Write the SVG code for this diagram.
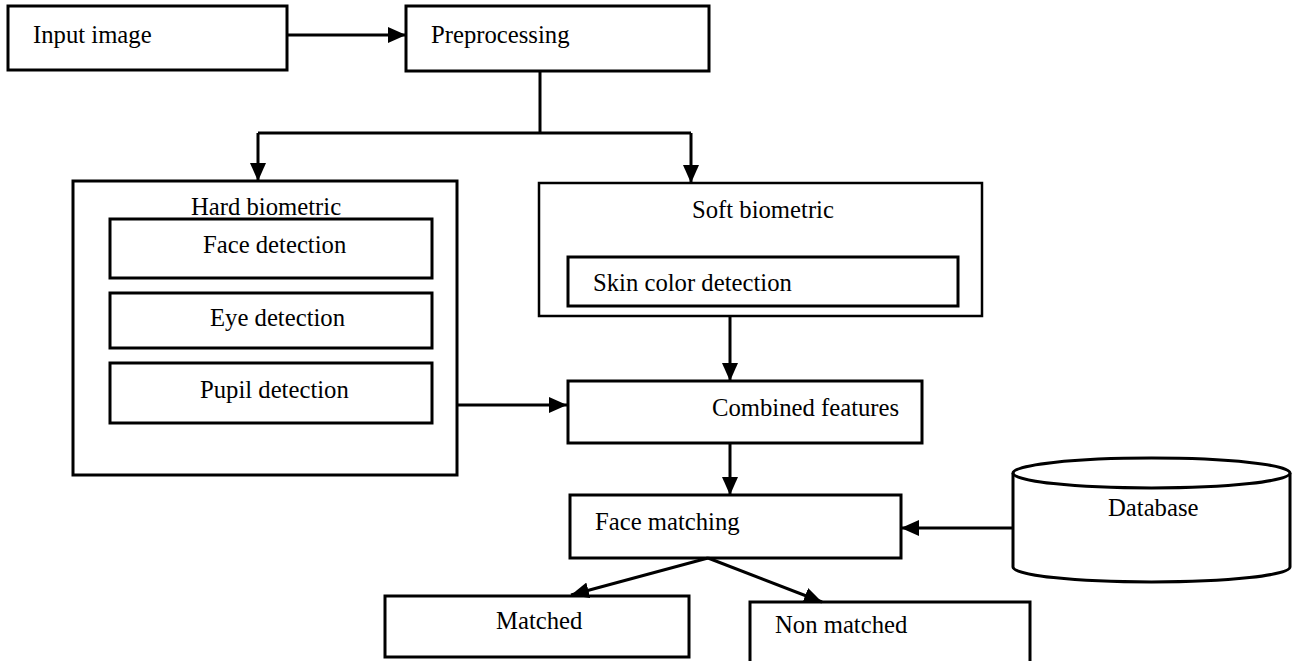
<svg xmlns="http://www.w3.org/2000/svg" width="1296" height="661" viewBox="0 0 1296 661">
<style>
.box{fill:#fff;stroke:#000;stroke-width:3}
.thin{fill:#fff;stroke:#000;stroke-width:2.5}
.t{font-family:"Liberation Serif","Times New Roman",serif;font-size:24.7px;fill:#000}
.c{fill:none;stroke:#000;stroke-width:3}
</style>
<defs>
<marker id="ah" markerUnits="userSpaceOnUse" markerWidth="18" markerHeight="16" refX="18" refY="8" orient="auto" viewBox="0 0 18 16">
<path d="M0,0 L18,8 L0,16 z" fill="#000"/>
</marker>
</defs>
<rect width="1296" height="661" fill="#fff"/>
<g id="input"><rect class="box" x="8" y="6" width="279" height="64"/><text class="t" x="33" y="43">Input image</text></g>
<g id="preprocessing"><rect class="box" x="406" y="6" width="303" height="65"/><text class="t" x="431" y="43">Preprocessing</text></g>
<g id="hard"><rect class="box" x="73" y="181" width="384" height="294"/><text class="t" x="191" y="215">Hard biometric</text></g>
<g id="face-det"><rect class="box" x="110" y="219" width="322" height="59"/><text class="t" x="203" y="253">Face detection</text></g>
<g id="eye-det"><rect class="box" x="110" y="293" width="322" height="55"/><text class="t" x="210" y="326">Eye detection</text></g>
<g id="pupil-det"><rect class="box" x="110" y="363" width="322" height="60"/><text class="t" x="200" y="398">Pupil detection</text></g>
<g id="soft"><rect class="thin" x="539" y="183" width="443" height="133"/><text class="t" x="692" y="218">Soft biometric</text></g>
<g id="skin"><rect class="box" x="568" y="257" width="390" height="49"/><text class="t" x="593" y="291">Skin color detection</text></g>
<g id="combined"><rect class="box" x="568" y="381" width="354" height="62"/><text class="t" x="712" y="416">Combined features</text></g>
<g id="face-matching"><rect class="box" x="570" y="495" width="331" height="63"/><text class="t" x="595" y="530">Face matching</text></g>
<g id="database">
<path class="box" d="M1013,473 L1013,567 A138.5,15 0 0 0 1290,567 L1290,473"/>
<ellipse class="box" cx="1151.5" cy="473" rx="138.5" ry="15"/>
<text class="t" x="1108" y="516">Database</text>
</g>
<g id="matched"><rect class="box" x="385" y="596" width="304" height="61"/><text class="t" x="496" y="629">Matched</text></g>
<g id="non-matched"><rect class="box" x="750" y="602" width="280" height="70"/><text class="t" x="775" y="633">Non matched</text></g>
<g id="connectors">
<line class="c" x1="287" y1="35" x2="406" y2="35" marker-end="url(#ah)"/>
<polyline class="c" points="540,71 540,133"/>
<polyline class="c" points="258,133 691,133"/>
<line class="c" x1="258" y1="133" x2="258" y2="181" marker-end="url(#ah)"/>
<line class="c" x1="691" y1="133" x2="691" y2="183" marker-end="url(#ah)"/>
<line class="c" x1="457" y1="405" x2="567" y2="405" marker-end="url(#ah)"/>
<line class="c" x1="730" y1="316" x2="730" y2="381" marker-end="url(#ah)"/>
<line class="c" x1="730" y1="443" x2="730" y2="495" marker-end="url(#ah)"/>
<line class="c" x1="1013" y1="528" x2="901" y2="528" marker-end="url(#ah)"/>
<line class="c" x1="708" y1="558" x2="571" y2="595" marker-end="url(#ah)"/>
<line class="c" x1="708" y1="558" x2="822" y2="602" marker-end="url(#ah)"/>
</g>
</svg>
